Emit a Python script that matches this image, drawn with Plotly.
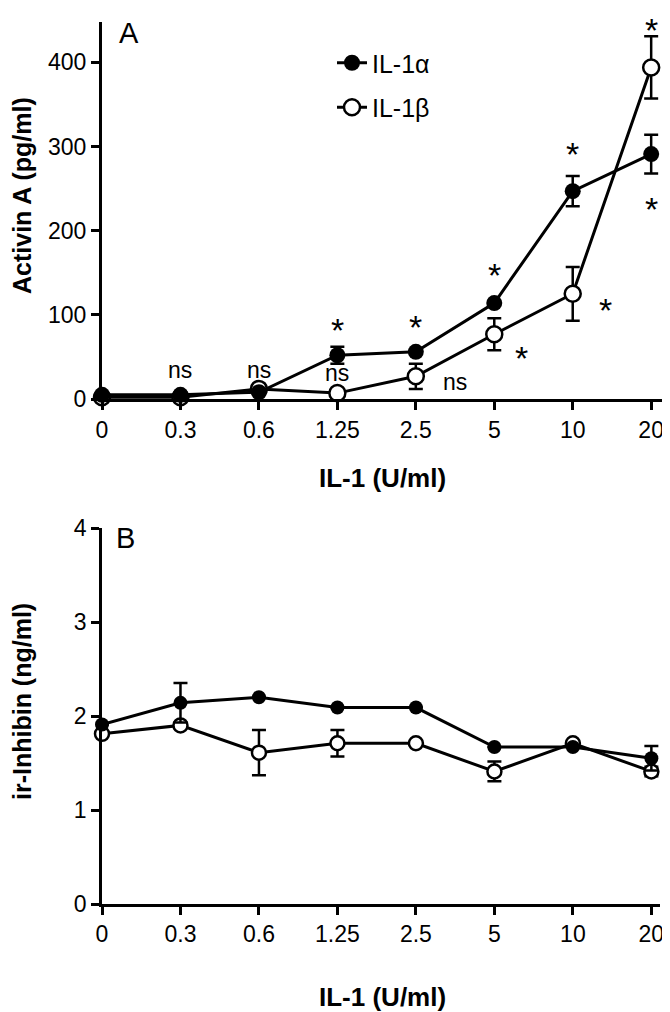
import plotly.graph_objects as go

# doses (U/ml), plotted at evenly spaced positions
doses = ["0", "0.3", "0.6", "1.25", "2.5", "5", "10", "20"]
pos = list(range(len(doses)))

# panel A: activin A (pg/ml)
actA_alpha = [5, 5, 8, 52, 56, 114, 247, 291]
actA_alpha_err = [0, 0, 0, 10, 0, 0, 18, 23]
actA_beta = [2, 2, 12, 7, 27, 77, 125, 394]
actA_beta_err = [0, 0, 0, 0, 15, 19, 32, 37]

# panel B: ir-inhibin (ng/ml)
inhB_alpha = [1.91, 2.14, 2.20, 2.09, 2.09, 1.67, 1.67, 1.55]
inhB_alpha_err = [0, 0.21, 0, 0, 0, 0, 0, 0.13]
inhB_beta = [1.81, 1.90, 1.61, 1.71, 1.71, 1.41, 1.71, 1.41]
inhB_beta_err = [0, 0, 0.24, 0.14, 0, 0.105, 0, 0.05]

# significance labels in panel A: (x position, y value, text)
sig_x = [1, 2, 3, 3, 4, 4, 5, 5, 6, 6, 7, 7]
sig_y = [35, 35, 31, 89, 20, 93, 56, 154, 113, 298, 233, 446]
sig_txt = ["ns", "ns", "ns", "*", "ns", "*", "*", "*", "*", "*", "*", "*"]
sig_dx = [0, 0, 0, 0, 0.5, 0, 0.35, 0, 0.42, 0, 0, 0]
sig_shift = [0, 0, 0, -6, 0, -6, -6, -6, -6, -6, -6, -6]

font = "Liberation Sans, Arial, sans-serif"
W, H = 670, 1012
OFF = 8  # page offset of the plot div


def px(x):
    return (x - OFF) / W


def py(y):
    return 1 - (y - OFF) / H


fig = go.Figure()


def add_pair(a, a_err, b, b_err, xa, ya, msize, legend):
    fig.add_trace(go.Scatter(
        x=pos, y=b, xaxis=xa, yaxis=ya, name="IL-1β", mode="lines+markers",
        line=dict(color="black", width=3),
        marker=dict(symbol="circle", size=msize, color="white",
                    line=dict(color="black", width=2.5)),
        error_y=dict(type="data", array=b_err, color="black", thickness=2.5, width=7),
        cliponaxis=False, showlegend=legend, legendrank=2, legendgroup="b"))
    fig.add_trace(go.Scatter(
        x=pos, y=a, xaxis=xa, yaxis=ya, name="IL-1α", mode="lines+markers",
        line=dict(color="black", width=3),
        marker=dict(symbol="circle", size=msize, color="black"),
        error_y=dict(type="data", array=a_err, color="black", thickness=2.5, width=7),
        cliponaxis=False, showlegend=legend, legendrank=1, legendgroup="a"))


add_pair(actA_alpha, actA_alpha_err, actA_beta, actA_beta_err, "x", "y", 16, True)
add_pair(inhB_alpha, inhB_alpha_err, inhB_beta, inhB_beta_err, "x2", "y2", 14, False)

for x, y, t, dx, sh in zip(sig_x, sig_y, sig_txt, sig_dx, sig_shift):
    fig.add_annotation(x=x + dx, y=y, xref="x", yref="y", text=t, showarrow=False,
                       xanchor="center", yanchor="middle", yshift=sh,
                       font=dict(family=font, size=34 if t == "*" else 23, color="black"))

axis_common = dict(showline=True, linecolor="black", ticks="outside", ticklen=8,
                   tickcolor="black", showgrid=False, zeroline=False, automargin=False,
                   tickfont=dict(family=font, size=23, color="black"))

fig.update_layout(
    width=W, height=H,
    margin=dict(l=0, r=0, t=0, b=0),
    plot_bgcolor="white", paper_bgcolor="white",
    xaxis=dict(domain=[px(102), px(670)], range=[0, 7.24], tickvals=pos, ticktext=doses,
               anchor="y", linewidth=3, tickwidth=3, **axis_common),
    yaxis=dict(domain=[py(399), py(22)], range=[0, 448], tickvals=[0, 100, 200, 300, 400],
               anchor="x", linewidth=3, tickwidth=3, **axis_common),
    xaxis2=dict(domain=[px(102), px(660)], range=[0, 7.11], tickvals=pos, ticktext=doses,
                anchor="y2", linewidth=2.5, tickwidth=2.5, **axis_common),
    yaxis2=dict(domain=[py(904), py(528)], range=[0, 4], tickvals=[0, 1, 2, 3, 4],
                anchor="x2", linewidth=2.5, tickwidth=2.5, **axis_common),
    legend=dict(x=px(332), y=py(40), xanchor="left", yanchor="top",
                font=dict(family=font, size=25, color="black"),
                bgcolor="rgba(0,0,0,0)", tracegroupgap=9, itemwidth=30),
)

# panel letters and axis titles: (text, x px, y px, angle, size)
labels = [("A", 129, 33, 0, 29), ("B", 126, 538, 0, 29),
          ("<b>IL-1 (U/ml)</b>", 383, 478, 0, 26), ("<b>IL-1 (U/ml)</b>", 383, 997, 0, 26),
          ("<b>Activin A (pg/ml)</b>", 22, 196, -90, 25),
          ("<b>ir-Inhibin (ng/ml)</b>", 22, 702, -90, 25)]
for t, tx, ty, ang, sz in labels:
    fig.add_annotation(x=px(tx), y=py(ty), xref="paper", yref="paper", text=t,
                       textangle=ang, showarrow=False, xanchor="center", yanchor="middle",
                       font=dict(family=font, size=sz, color="black"))

fig.write_html("out.html")
